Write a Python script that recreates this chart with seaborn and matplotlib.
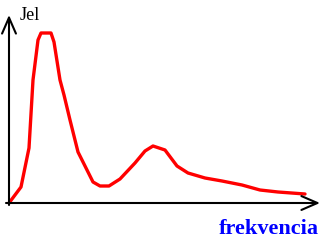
import matplotlib
matplotlib.use("Agg")
import matplotlib.pyplot as plt
import seaborn as sns
import pandas as pd

# Frequency (arbitrary units) and signal level
frekvencia = [0, 12, 20, 24, 29, 32, 42, 45, 51, 55, 61, 69, 84, 91, 100, 111, 126,
              136, 144, 156, 168, 179, 196, 213, 233, 251, 269, 296]
jel = [0, 16, 55, 123, 163, 170, 170, 161, 123, 108, 83, 51, 21, 17, 17, 24, 40,
       52, 57, 53, 37, 30, 25, 22, 18, 13, 11, 9]

df = pd.DataFrame({"frekvencia": frekvencia, "jel": jel})

sns.set_style("white")
fig = plt.figure(figsize=(3.3, 2.45), dpi=100)
ax = fig.add_axes([0, 0, 1, 1])

sns.lineplot(data=df, x="frekvencia", y="jel", sort=False, color="#ff0000",
             linewidth=2.4, ax=ax, legend=False)

ax.set_xlim(-9, 321)
ax.set_ylim(-42, 203)
ax.set_axis_off()

arrow = dict(arrowstyle="->,head_length=1.15,head_width=0.5", color="black",
             lw=1.5, mutation_scale=10, shrinkA=0, shrinkB=0)
# y axis
ax.annotate("", xy=(0, 188), xytext=(0, -2), arrowprops=arrow)
# x axis
ax.annotate("", xy=(311, 0), xytext=(-3, 0), arrowprops=arrow)

ax.text(11, 183, "Jel", family="Liberation Serif", fontsize=13, color="black",
        ha="left", va="baseline")
ax.text(310, -31, "frekvencia", family="Liberation Serif", fontsize=16,
        fontweight="bold", color="#0000ff", ha="right", va="baseline")

fig.savefig("out.png", dpi=100, facecolor="white")
